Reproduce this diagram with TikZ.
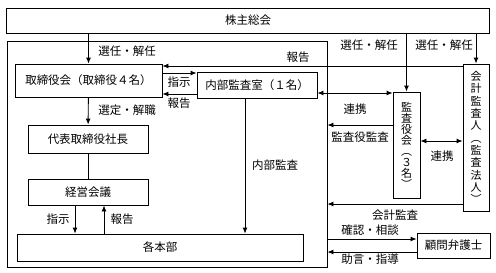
\documentclass[tikz,border=0pt]{standalone}
\usepackage{fontspec}
\setmainfont{Noto Sans CJK JP}
\usepackage{tikz}
\usetikzlibrary{arrows.meta,positioning}

\begin{document}
\begin{tikzpicture}[
        x=1pt, y=-1pt,
        font=\fontsize{11.5}{12}\selectfont,
        box/.style={draw, line width=0.9pt, inner sep=0pt, align=center},
        vbox/.style={box, font=\fontsize{11}{11}\selectfont},
        lbl/.style={inner sep=1pt},
        arr/.style={-{Latex[length=6pt,width=5pt]}, line width=0.9pt},
        dbl/.style={{Latex[length=6pt,width=5pt]}-{Latex[length=6pt,width=5pt]}, line width=0.9pt}
    ]
        \useasboundingbox (0,0) rectangle (496,273);
        \node[box, minimum width=483pt, minimum height=25pt] (gm) at (248,20.5) {株主総会};
        \node[box, minimum width=320pt, minimum height=226pt] (co) at (167,154) {};
        \node[box, minimum width=147pt, minimum height=33pt] (board) at (88.5,80.5) {取締役会（取締役４名）};
        \node[box, minimum width=120pt, minimum height=26pt] (nb) at (257,85) {内部監査室（１名）};
        \node[box, minimum width=120pt, minimum height=28pt] (pres) at (88,139) {代表取締役社長};
        \node[box, minimum width=120pt, minimum height=26pt] (mtg) at (88,192) {経営会議};
        \node[box, minimum width=286pt, minimum height=27pt] (hb) at (160,247.5) {各本部};
        \node[vbox, minimum width=27pt, minimum height=106pt] (ks) at (406.5,145) {監\\査\\役\\会\\︵\\３\\名\\︶};
        \node[vbox, minimum width=26pt, minimum height=147pt, font=\fontsize{11}{12.3}\selectfont] (kk) at (476,137.5) {会\\計\\監\\査\\人\\︵\\監\\査\\法\\人\\︶};
        \node[box, minimum width=73pt, minimum height=25pt] (bg) at (453.5,245.5) {顧問弁護士};

        % labels
        \node[lbl] (l1) at (127,51) {選任・解任};
        \node[lbl] (l2) at (127,110) {選定・解職};
        \node[lbl] (l3) at (298,57) {報告};
        \node[lbl] (l4) at (179,82) {指示};
        \node[lbl] (l5) at (179,103) {報告};
        \node[lbl] (l6) at (369,45) {選任・解任};
        \node[lbl] (l7) at (444,45) {選任・解任};
        \node[lbl] (l8) at (355,109) {連携};
        \node[lbl] (l9) at (360,137) {監査役監査};
        \node[lbl] (l10) at (442,156) {連携};
        \node[lbl] (l11) at (395,215) {会計監査};
        \node[lbl] (l12) at (370,230) {確認・相談};
        \node[lbl] (l13) at (370,259) {助言・指導};
        \node[lbl] (l14) at (275,165) {内部監査};
        \node[lbl] (l15) at (58,219) {指示};
        \node[lbl] (l16) at (122,219) {報告};

        % connectors
        \draw[arr] (gm.south -| board) -- (board);
        \draw[arr] (board) -- (pres);
        \draw[line width=0.9pt] (pres) -- (mtg);
        \draw[arr] (mtg.south -| 75,0) -- (hb.north -| 75,0);
        \draw[arr] (hb.north -| 104,0) -- (mtg.south -| 104,0);
        \draw[arr] (kk.west |- 0,66) -- (board.east |- 0,66);
        \draw[arr] (board.east |- 0,73) -- (nb.west |- 0,73);
        \draw[arr] (nb.west |- 0,94) -- (board.east |- 0,94);
        \draw[dbl] (nb.east |- 0,93) -- (ks.west |- 0,93);
        \draw[arr] (gm.south -| ks) -- (ks);
        \draw[arr] (gm.south -| kk) -- (kk);
        \draw[arr] (ks.west |- 0,125) -- (co.east |- 0,125);
        \draw[dbl] (ks.east |- 0,141) -- (kk.west |- 0,141);
        \draw[arr] (kk.west |- 0,204) -- (co.east |- 0,204);
        \draw[arr] (co.east |- 0,239) -- (bg.west |- 0,239);
        \draw[arr] (bg.west |- 0,252) -- (co.east |- 0,252);
        \draw[arr] (nb.south -| 245,0) -- (hb.north -| 245,0);
    \end{tikzpicture}
\end{document}
